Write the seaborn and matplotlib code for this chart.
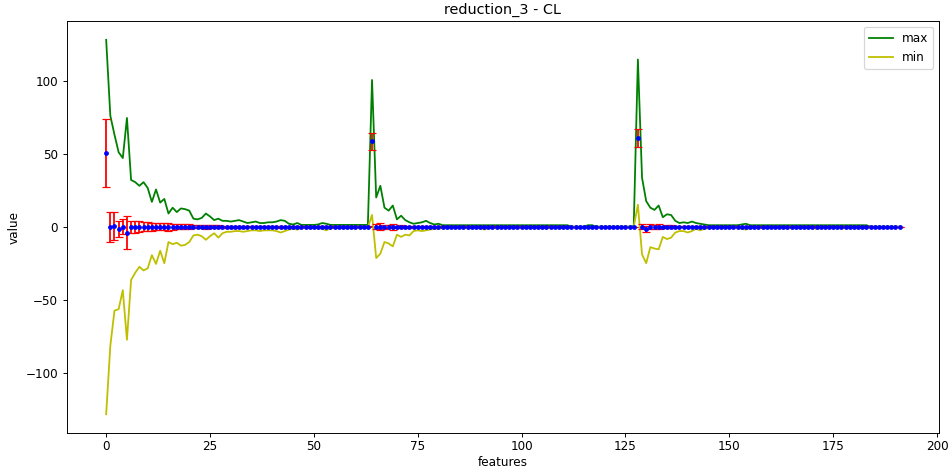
import matplotlib
matplotlib.use("Agg")
import matplotlib.pyplot as plt
import seaborn as sns
import numpy as np

features = list(range(192))

max_vals = [
    128, 76, 63, 51, 47, 74.5, 32, 30.5, 28, 30.5,
    26.5, 17, 25.5, 16.5, 19, 9, 13, 10, 12.5, 12,
    11, 5.5, 5, 6, 9, 7, 4.5, 5.5, 4, 4,
    3.5, 4, 4.5, 3.5, 2.5, 3, 3.5, 2.5, 2.5, 3,
    3, 3.5, 4.5, 4, 2, 1.5, 2.5, 1.2, 1.2, 1.2,
    1.2, 1.5, 2.5, 2, 1.2, 1.2, 1.2, 1.2, 1.2, 1.2,
    1.2, 1.2, 1.2, 1.2, 100.5, 20, 28, 13, 11, 14.5,
    5, 7.5, 4.5, 3, 2, 2.5, 3, 4, 2.5, 1.5,
    2, 1, 1, 1, 1, 1, 1, 1, 1, 1,
    1, 1, 1, 1, 1, 1, 1, 1, 1, 1,
    1, 1, 1, 1, 1, 1, 1, 1, 1, 1,
    1, 1, 0, 0, 0, 0, 1, 1, 0, 0,
    0, 0, 0, 0, 0, 0, 0, 0.5, 114.5, 33.5,
    17.5, 13, 11.5, 14.5, 6.5, 8.5, 8, 4, 2.5, 3,
    2.5, 3.5, 2.5, 2, 1.5, 1, 1, 1, 1, 1,
    1, 1, 1, 1.5, 2, 1, 1, 1, 1, 1,
    1, 1, 1, 1, 1, 1, 1, 1, 1, 1,
    1, 1, 1, 1, 1, 1, 1, 1, 1, 1,
    1, 1, 1, 1, 0, 0, 0, 0, 0, 0,
    0, 0,
]

min_vals = [
    -128.5, -81.5, -57.5, -56.5, -43.5, -77.5, -36.5, -31.5, -27.5, -30,
    -28.5, -19.5, -25.5, -16.5, -25, -10.5, -12, -11, -13, -12.5,
    -10.5, -6, -5.5, -6.5, -9, -6.5, -4.5, -7.5, -4.5, -3.5,
    -3.5, -3, -3, -3.5, -3, -2.5, -2.5, -3, -2.5, -2.5,
    -2.5, -3, -4, -3, -2, -1.5, -2, -1, -1, -1,
    -1, -1, -1.5, -2.5, -1, -1, -1, -1, -1, -1,
    -1, -1, -1, -0.5, 8, -21.5, -18.5, -10.5, -11.5, -13.5,
    -5.5, -7, -5.5, -6, -3, -2.5, -3, -2.5, -2, -1.5,
    -1.5, -1, -1, -1, -1, -1, -1, -1, -1, -1,
    -1, -2, -1, -1, -1, -1, -1, -1, -1, -1,
    -1, -1, -1, -1, -1, -1, -1, -1, -1, -1,
    -1, -1, 0, 0, 0, 0, -0.5, -0.5, 0, 0,
    0, 0, 0, 0, 0, 0, 0, 0, 15, -19,
    -25, -14, -15, -15.5, -7, -8.5, -7.5, -4, -3, -3,
    -4, -3, -1.5, -2.5, -1.5, -1, -1, -1, -1, -1,
    -1, -1, -1, -1.5, -2, -1, -1, -1, -1, -1,
    -1, -1, -1, -1, -1, -1, -1, -1, -1, -1,
    -1, -1.5, -1, -1, -1, -1, -1, -1, -1, -1,
    -1, -1, -1, -1, 0, 0, 0, 0, 0, 0,
    0, 0,
]

mean_vals = [
    50.5, -0.3, 0.5, -1.5, 0, -4, 0, 0, 0, 0,
    0, 0, 0, 0, 0, 0, 0, 0, 0, 0,
    0, 0, 0, 0, 0, 0, 0, 0, 0, 0,
    0, 0, 0, 0, 0, 0, 0, 0, 0, 0,
    0, 0, 0, 0, 0, 0, 0, 0, 0, 0,
    0, 0, 0, 0, 0, 0, 0, 0, 0, 0,
    0, 0, 0, 0, 58.5, 0, 0, 0, 0, 0,
    0, 0, 0, 0, 0, 0, 0, 0, 0, 0,
    0, 0, 0, 0, 0, 0, 0, 0, 0, 0,
    0, 0, 0, 0, 0, 0, 0, 0, 0, 0,
    0, 0, 0, 0, 0, 0, 0, 0, 0, 0,
    0, 0, 0, 0, 0, 0, 0, 0, 0, 0,
    0, 0, 0, 0, 0, 0, 0, 0, 61, 0,
    -1.5, 0, 0, 0, 0, 0, 0, 0, 0, 0,
    0, 0, 0, 0, 0, 0, 0, 0, 0, 0,
    0, 0, 0, 0, 0, 0, 0, 0, 0, 0,
    0, 0, 0, 0, 0, 0, 0, 0, 0, 0,
    0, 0, 0, 0, 0, 0, 0, 0, 0, 0,
    0, 0, 0, 0, 0, 0, 0, 0, 0, 0,
    0, 0,
]

std_vals = [
    23.5, 10.3, 9.8, 5.5, 5.2, 11.2, 4.2, 4, 3.6, 3.3,
    3.1, 2.7, 2.6, 2.3, 2.2, 2.8, 2, 1.9, 1.8, 1.6,
    1.5, 1.2, 1.2, 1.1, 1.3, 1.1, 0.9, 1, 0.8, 0.8,
    0.7, 0.6, 0.6, 0.6, 0.5, 0.5, 0.5, 0.5, 0.5, 0.5,
    0.5, 0.5, 0.6, 0.5, 0.4, 0.3, 0.3, 0.3, 0.3, 0.3,
    0.3, 0.3, 0.3, 0.3, 0.3, 0.3, 0.3, 0.3, 0.3, 0.3,
    0.3, 0.3, 0.3, 0.3, 5.9, 1.6, 2.6, 1.3, 1.1, 2,
    0.8, 1, 0.7, 0.6, 0.4, 0.4, 0.4, 0.4, 0.4, 0.4,
    0.4, 0.4, 0.2, 0.2, 0.2, 0.2, 0.2, 0.2, 0.2, 0.2,
    0.2, 0.2, 0.2, 0.2, 0.2, 0.2, 0.2, 0.2, 0.2, 0.2,
    0.2, 0.2, 0.2, 0.2, 0.2, 0.2, 0.2, 0.2, 0.2, 0.2,
    0.2, 0.2, 0, 0, 0, 0, 0, 0, 0, 0,
    0, 0, 0, 0, 0, 0, 0, 0, 6.1, 1.8,
    2.2, 1.5, 1.3, 1.6, 0.8, 0.9, 0.9, 0.6, 0.4, 0.4,
    0.4, 0.4, 0.4, 0.4, 0.4, 0.4, 0.2, 0.2, 0.2, 0.2,
    0.2, 0.2, 0.2, 0.2, 0.2, 0.2, 0.2, 0.2, 0.2, 0.2,
    0.2, 0.2, 0.2, 0.2, 0.2, 0.2, 0.2, 0.2, 0.2, 0.2,
    0.2, 0.2, 0.2, 0.2, 0.2, 0.2, 0.2, 0.2, 0.2, 0.2,
    0.2, 0.2, 0.2, 0.2, 0, 0, 0, 0, 0, 0,
    0, 0,
]

DPI = 86
fig, ax = plt.subplots(figsize=(950 / DPI, 469 / DPI), dpi=DPI)
fig.subplots_adjust(left=0.07, right=0.9887, bottom=0.0768, top=0.955)

sns.lineplot(x=features, y=max_vals, color="g", label="max", ax=ax, linewidth=1.5)
sns.lineplot(x=features, y=min_vals, color="y", label="min", ax=ax, linewidth=1.5)
ax.errorbar(features, mean_vals, yerr=std_vals, fmt="b.", ecolor="r", capsize=3)

ax.set_title("reduction_3 - CL")
ax.set_xlabel("features", labelpad=2)
ax.set_ylabel("value")
ax.tick_params(axis="x", pad=2.5)
ax.legend(loc="upper right")

fig.savefig("out.png", dpi=DPI)
